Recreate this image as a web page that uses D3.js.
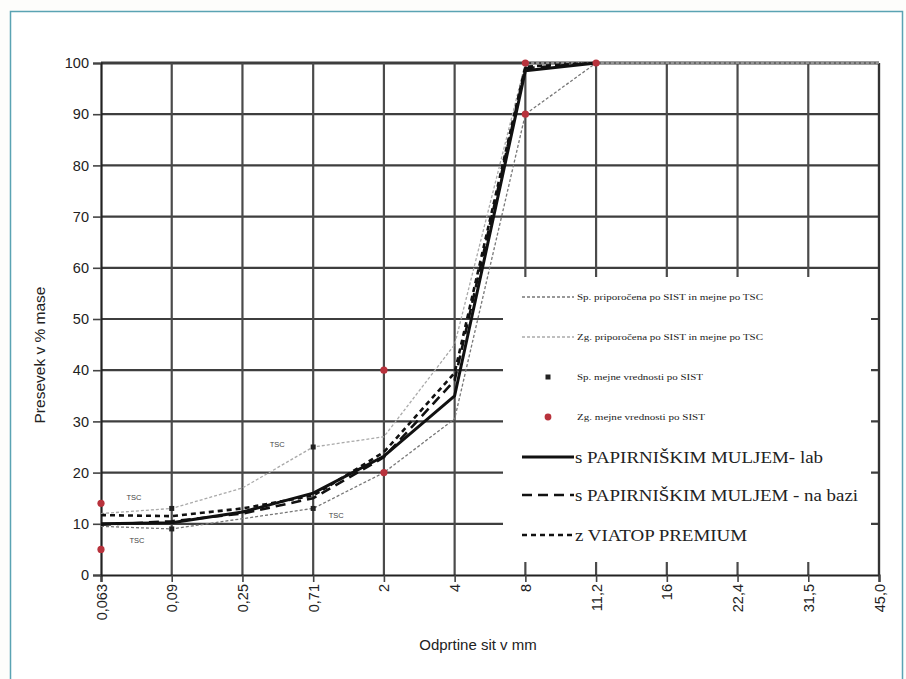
<!DOCTYPE html>
<html>
<head>
<meta charset="utf-8">
<script src="https://cdn.jsdelivr.net/npm/d3@7"></script>
<style>
  body { margin: 0; background: #fdfdfb; }
  svg { display: block; }
  .series text { font-family: "Liberation Serif", "Times New Roman", Times, serif; }
</style>
</head>
<body>
<div id="container"></div>
<script>
var totalWidth = 906,
    totalHeight = 679,
    margin = {top: 63, right: 27, bottom: 104, left: 101},
    width = totalWidth - margin.left - margin.right,
    height = totalHeight - margin.top - margin.bottom;

// odprtine sit (mm)
var categories = ["0,063", "0,09", "0,25", "0,71", "2", "4", "8", "11,2", "16", "22,4", "31,5", "45,0"];
var yTicks = [0, 10, 20, 30, 40, 50, 60, 70, 80, 90, 100];

// presevek v % mase
var lab    = [10, 10.2, 12.3, 16, 23.2, 35, 98.5, 100];
var naBazi = [9.8, 10.5, 12, 15, 23, 38, 99, 100];
var viatop = [11.7, 11.5, 13, 15.5, 24, 39.5, 99.3, 100];
var spMeja = [9.5, 9, 11, 13, 20, 30.5, 90, 100, 100, 100, 100, 100];
var zgMeja = [12, 13, 17, 25, 27, 45, 100, 100, 100, 100, 100, 100];

var spTocke = [{x: "0,09", y: 13}, {x: "0,09", y: 9}, {x: "0,71", y: 25}, {x: "0,71", y: 13}];
var zgTocke = [{x: "0,063", y: 14}, {x: "0,063", y: 5}, {x: "2", y: 40}, {x: "2", y: 20},
               {x: "8", y: 100}, {x: "8", y: 90}, {x: "11,2", y: 100}];
var tscOznake = [{x: "0,71", y: 25.5, dx: -36}, {x: "0,063", y: 15.2, dx: 33},
                 {x: "0,063", y: 6.8, dx: 36}, {x: "0,71", y: 11.7, dx: 23}];

var legendItems = [
  {name: "Sp. priporočena po SIST in mejne po TSC", type: "line", color: "#777", w: 1.3, dash: "3,2", size: 9, len: 186},
  {name: "Zg. priporočena po SIST in mejne po TSC", type: "line", color: "#aaa", w: 1.3, dash: "3,2", size: 9, len: 186},
  {name: "Sp. mejne vrednosti po SIST", type: "square", color: "#222", size: 9, len: 126},
  {name: "Zg. mejne vrednosti po SIST", type: "circle", color: "#b8323c", size: 9, len: 128},
  {name: "s PAPIRNIŠKIM MULJEM- lab", type: "line", color: "#111", w: 3, dash: null, size: 16, len: 248},
  {name: "s PAPIRNIŠKIM MULJEM - na bazi", type: "line", color: "#111", w: 2.6, dash: "10,6", size: 16, len: 283},
  {name: "z VIATOP PREMIUM", type: "line", color: "#111", w: 2.6, dash: "5,4", size: 16, len: 172}
];

var xScale = d3.scalePoint().domain(categories).range([0, width]);
var yScale = d3.scaleLinear().domain([0, 100]).range([height, 0]);

var root = d3.select("#container")
  .append("svg")
  .attr("width", totalWidth)
  .attr("height", totalHeight);

// okvir
root.append("rect")
  .attr("x", 10.5).attr("y", 11.5)
  .attr("width", 892).attr("height", 700)
  .attr("fill", "#fff")
  .attr("stroke", "#5aa3b3")
  .attr("stroke-width", 1.5);

var svg = root.append("g")
  .attr("transform", "translate(" + margin.left + "," + margin.top + ")");

// mreža
svg.append("g").attr("class", "grid-y")
  .selectAll("line")
  .data(yTicks.slice(1)).enter()
  .append("line")
  .attr("x1", 0).attr("x2", width)
  .attr("y1", function(d) { return yScale(d); })
  .attr("y2", function(d) { return yScale(d); })
  .attr("stroke", "#3e3e3e")
  .attr("stroke-width", function(d) { return d === 100 ? 2.8 : 2.2; });

svg.append("g").attr("class", "grid-x")
  .selectAll("line")
  .data(categories.slice(1)).enter()
  .append("line")
  .attr("x1", function(d) { return xScale(d); })
  .attr("x2", function(d) { return xScale(d); })
  .attr("y1", 0).attr("y2", height)
  .attr("stroke", "#4a4a4a")
  .attr("stroke-width", 2.2);

// osi
var xAxis = d3.axisBottom(xScale).tickSize(7).tickPadding(3);
var yAxis = d3.axisLeft(yScale).tickValues(yTicks).tickSize(8).tickPadding(4);

var gx = svg.append("g")
  .attr("class", "x-axis")
  .attr("transform", "translate(0," + height + ")")
  .call(xAxis);
gx.select(".domain").attr("stroke", "#222").attr("stroke-width", 2.2);
gx.selectAll(".tick line").attr("stroke", "#444").attr("stroke-width", 1.6);
gx.selectAll(".tick text")
  .attr("font-family", "Liberation Sans, Arial, sans-serif")
  .attr("font-size", 14.5)
  .attr("fill", "#222")
  .attr("transform", "rotate(-90)")
  .attr("text-anchor", "end")
  .attr("x", -9).attr("y", 0).attr("dy", "0.35em");

var gy = svg.append("g")
  .attr("class", "y-axis")
  .call(yAxis);
gy.select(".domain").attr("stroke", "#222").attr("stroke-width", 2.2);
gy.selectAll(".tick line").attr("stroke", "#444").attr("stroke-width", 1.6);
gy.selectAll(".tick text")
  .attr("font-family", "Liberation Sans, Arial, sans-serif")
  .attr("font-size", 14.5)
  .attr("fill", "#222");

svg.append("line")
  .attr("x1", width).attr("x2", width)
  .attr("y1", 0).attr("y2", height)
  .attr("stroke", "#333").attr("stroke-width", 2.2);

svg.append("text")
  .attr("transform", "translate(" + (40 - margin.left) + "," + (355 - margin.top) + ") rotate(-90)")
  .attr("text-anchor", "middle")
  .attr("dy", "0.35em")
  .attr("font-family", "Liberation Sans, Arial, sans-serif")
  .attr("font-size", 15.5)
  .attr("fill", "#222")
  .text("Presevek v % mase");

svg.append("text")
  .attr("x", 478 - margin.left)
  .attr("y", 645 - margin.top)
  .attr("text-anchor", "middle")
  .attr("dy", "0.35em")
  .attr("font-family", "Liberation Sans, Arial, sans-serif")
  .attr("font-size", 15)
  .attr("fill", "#222")
  .text("Odprtine sit v mm");

// krivulje
var line = d3.line()
  .x(function(d, i) { return xScale(categories[i]); })
  .y(function(d) { return yScale(d); });

var curves = [
  {data: spMeja, color: "#777", w: 1.3, dash: "3,2"},
  {data: zgMeja, color: "#aaa", w: 1.3, dash: "3,2"},
  {data: naBazi, color: "#111", w: 2.6, dash: "10,6"},
  {data: viatop, color: "#111", w: 2.6, dash: "5,4"},
  {data: lab, color: "#111", w: 3, dash: null}
];

svg.append("g").attr("class", "curves")
  .selectAll("path")
  .data(curves).enter()
  .append("path")
  .attr("d", function(d) { return line(d.data); })
  .attr("fill", "none")
  .attr("stroke", function(d) { return d.color; })
  .attr("stroke-width", function(d) { return d.w; })
  .attr("stroke-dasharray", function(d) { return d.dash; })
  .attr("stroke-linejoin", "round");

svg.append("g").attr("class", "sp-points")
  .selectAll("rect")
  .data(spTocke).enter()
  .append("rect")
  .attr("x", function(d) { return xScale(d.x) - 2.5; })
  .attr("y", function(d) { return yScale(d.y) - 2.5; })
  .attr("width", 5).attr("height", 5)
  .attr("fill", "#222");

svg.append("g").attr("class", "zg-points")
  .selectAll("circle")
  .data(zgTocke).enter()
  .append("circle")
  .attr("cx", function(d) { return xScale(d.x); })
  .attr("cy", function(d) { return yScale(d.y); })
  .attr("r", 3.6)
  .attr("fill", "#b8323c");

svg.append("g").attr("class", "tsc")
  .selectAll("text")
  .data(tscOznake).enter()
  .append("text")
  .attr("x", function(d) { return xScale(d.x) + d.dx; })
  .attr("y", function(d) { return yScale(d.y); })
  .attr("text-anchor", "middle")
  .attr("dy", "0.35em")
  .attr("font-family", "Liberation Sans, Arial, sans-serif")
  .attr("font-size", 7.5)
  .attr("fill", "#444")
  .text("TSC");

// legenda
var legendX = 503 - margin.left, legendY = 277 - margin.top;
var legendWrap = svg.append("g")
  .attr("transform", "translate(" + legendX + "," + legendY + ")");
legendWrap.append("rect")
  .attr("width", 368).attr("height", 285)
  .attr("fill", "#fff");

var rowY = [20, 60, 100, 140, 180, 218, 258];
var series = legendWrap.selectAll(".series")
  .data(legendItems).enter()
  .append("g").attr("class", "series")
  .attr("transform", function(d, i) { return "translate(0," + rowY[i] + ")"; });

series.filter(function(d) { return d.type === "line"; })
  .append("line")
  .attr("x1", 19).attr("x2", 71)
  .attr("stroke", function(d) { return d.color; })
  .attr("stroke-width", function(d) { return d.w; })
  .attr("stroke-dasharray", function(d) { return d.dash; });
series.filter(function(d) { return d.type === "square"; })
  .append("rect")
  .attr("x", 42.5).attr("y", -2.5).attr("width", 5).attr("height", 5)
  .attr("fill", function(d) { return d.color; });
series.filter(function(d) { return d.type === "circle"; })
  .append("circle")
  .attr("cx", 45).attr("r", 3.4)
  .attr("fill", function(d) { return d.color; });

series.append("text")
  .attr("x", function(d) { return d.size > 10 ? 72 : 74; })
  .attr("dy", "0.35em")
  .attr("font-size", function(d) { return d.size; })
  .attr("textLength", function(d) { return d.len; })
  .attr("lengthAdjust", "spacingAndGlyphs")
  .attr("fill", "#222")
  .text(function(d) { return d.name; });
</script>
</body>
</html>
